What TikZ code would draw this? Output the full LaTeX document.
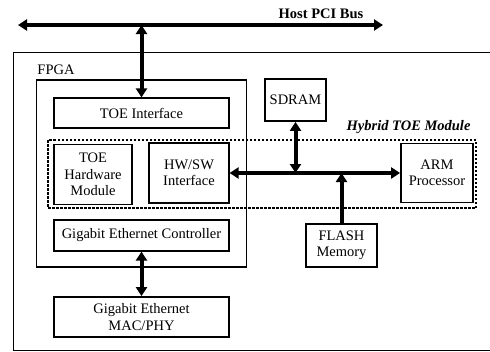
\documentclass[tikz,border=0pt]{standalone}
\usepackage{fontspec}
\setmainfont{Liberation Serif}
\usetikzlibrary{arrows.meta, positioning}

\begin{document}
\begin{tikzpicture}[x=1pt,y=-1pt,font=\fontsize{14.5}{16.5}\selectfont,
    blk/.style={draw,line width=1.2pt,align=center,inner sep=1pt},
    thk/.style={blk,line width=1.8pt},
    bus/.style={line width=4pt,{Triangle[length=9pt,width=11pt]}-{Triangle[length=9pt,width=11pt]}},
    busin/.style={line width=4pt,-{Triangle[length=9pt,width=11pt]}}]
      \useasboundingbox (0,0) rectangle (490,351);
      \draw[line width=0.9pt] (13,350) -- (13,52) -- (492,52);
      \draw[line width=0.9pt] (13,350) -- (492,350);

      \node[thk,minimum width=210pt,minimum height=187pt] (fpga) at (141.5,173.5) {};
      \node (fpga_lbl) at (56,70) {FPGA};
      \node[blk,minimum width=175pt,minimum height=30pt] (toe_if) at (141.5,113) {TOE Interface};
      \draw[line width=1.1pt,dash pattern=on 2.5pt off 1.5pt] (48,140) rectangle (476,208);
      \node[font=\fontsize{14.5}{16.5}\selectfont\bfseries\itshape,anchor=south east] (hyb_lbl) at (474,137) {Hybrid TOE Module};
      \node[thk,minimum width=78pt,minimum height=60pt] (toe_hw) at (93,174.5) {TOE\\Hardware\\Module};
      \node[blk,minimum width=80pt,minimum height=60pt] (hw_sw) at (189,173) {HW/SW\\Interface};
      \node[blk,minimum width=175pt,minimum height=31pt] (gec) at (141.5,235.5) {Gigabit Ethernet Controller};
      \node[thk,minimum width=175pt,minimum height=40pt] (mac) at (141.5,317) {Gigabit Ethernet\\MAC/PHY};
      \node[thk,minimum width=61pt,minimum height=42pt] (sdram) at (295.5,100) {SDRAM};
      \node[thk,minimum width=72pt,minimum height=59pt] (arm) at (437,173) {ARM\\Processor};
      \node[thk,minimum width=71pt,minimum height=43pt] (flash) at (341.5,245.5) {FLASH\\Memory};

      \coordinate (pci_l) at (18,25);
      \coordinate (pci_r) at (383,25);
      \draw[bus] (pci_l) -- node[pos=0.83,above=1pt,font=\fontsize{14.5}{16.5}\selectfont\bfseries] {Host PCI Bus} (pci_r);
      \draw[bus] (toe_if.north |- pci_l) -- (toe_if.north);
      \draw[bus] (hw_sw.east) -- (arm.west);
      \draw[bus] (sdram.south) -- (sdram.south |- arm.west);
      \draw[busin] (flash.north) -- (flash.north |- arm.west);
      \draw[bus] (gec.south) -- (mac.north);
    \end{tikzpicture}
\end{document}
